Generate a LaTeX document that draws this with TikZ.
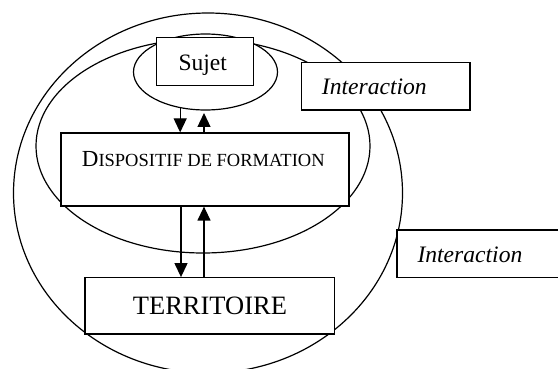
\documentclass[tikz,border=0pt]{standalone}
\usepackage{fontspec}
\setmainfont{Liberation Serif}
\usetikzlibrary{shapes.geometric,arrows.meta}
\tikzset{
  ln/.style={line width=1.2pt},
  oval/.style={ln, draw, shape=ellipse, inner sep=0pt},
  boxnode/.style={ln, draw, fill=white, rectangle, inner sep=0pt},
  txt/.style={inner sep=0pt, anchor=base west},
  arr/.style={ln, -{Triangle[length=14pt,width=13pt]}}
}
\begin{document}
\begin{tikzpicture}[x=1pt,y=-1pt]
\useasboundingbox (0,0) rectangle (558,369);
% ellipses
\node[oval, minimum width=389pt, minimum height=360pt] (outer) at (208,193) {};
\node[oval, minimum width=334pt, minimum height=214pt] (inner) at (203,146) {};
\node[oval, minimum width=144pt, minimum height=76pt] (small) at (205.5,72) {};
% boxes
\node[boxnode, minimum width=96.6pt, minimum height=48pt] (sujetbox) at (205,61.7) {};
\node[boxnode, minimum width=168.3pt, minimum height=47.7pt] (inter1box) at (385.85,86.15) {};
\node[boxnode, minimum width=170pt, minimum height=47.3pt] (inter2box) at (482,253.65) {};
\node[boxnode, minimum width=288pt, minimum height=73pt] (dispbox) at (205,169.5) {};
\node[boxnode, minimum width=249.3pt, minimum height=56.3pt] (terrbox) at (209.65,305.85) {};
% texts
\node[txt] (sujet) at (178.3,71) {\fontsize{23.5pt}{26pt}\selectfont Sujet};
\node[txt] (inter1) at (321.7,95) {\fontsize{23.6pt}{26pt}\selectfont\itshape Interaction};
\node[txt] (inter2) at (417.3,262.3) {\fontsize{23.6pt}{26pt}\selectfont\itshape Interaction};
\node[txt] (disp) at (81.7,167) {\fontsize{23pt}{26pt}\selectfont D\fontsize{18.5pt}{22pt}\selectfont ISPOSITIF DE FORMATION};
\node[txt] (terr) at (132.7,314.3) {\fontsize{26.5pt}{30pt}\selectfont TERRITOIRE};
% arrows
\coordinate (dnx) at (181,0);
\coordinate (upA) at (204,113);
\draw[arr] (small.235.5) -- (small.235.5 |- dispbox.north);
\draw[arr] (upA |- dispbox.north) -- (upA);
\draw[arr] (dispbox.south -| dnx) -- (terrbox.north -| dnx);
\draw[arr] (terrbox.north -| upA) -- (dispbox.south -| upA);
\end{tikzpicture}
\end{document}
